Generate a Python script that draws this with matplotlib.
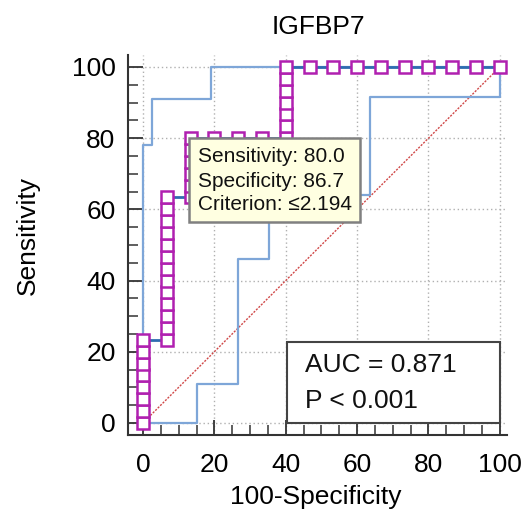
import matplotlib
matplotlib.use("Agg")
import matplotlib.pyplot as plt
from matplotlib.patches import Rectangle
from matplotlib.ticker import MultipleLocator

plt.rcParams['font.family'] = ['Liberation Sans', 'DejaVu Sans']

title = "IGFBP7"
xlabel = "100-Specificity"
ylabel = "Sensitivity"
ticks = [0, 20, 40, 60, 80, 100]

# ROC operating points (100-Specificity, Sensitivity)
roc_x = [0, 0, 0, 0, 0, 0, 0, 0,
         6.67, 6.67, 6.67, 6.67, 6.67, 6.67, 6.67, 6.67, 6.67, 6.67, 6.67, 6.67, 6.67,
         13.33, 13.33, 13.33, 13.33, 13.33, 13.33,
         20.0, 26.67, 33.33,
         40.0, 40.0, 40.0, 40.0, 40.0, 40.0, 40.0,
         46.67, 53.33, 60.0, 66.67, 73.33, 80.0, 86.67, 93.33, 100.0]
roc_y = [0, 3.33, 6.67, 10.0, 13.33, 16.67, 20.0, 23.33,
         23.33, 26.67, 30.0, 33.33, 36.67, 40.0, 43.33, 46.67, 50.0, 53.33, 56.67, 60.0, 63.33,
         63.33, 66.67, 70.0, 73.33, 76.67, 80.0,
         80.0, 80.0, 80.0,
         80.0, 83.33, 86.67, 90.0, 93.33, 96.67, 100.0,
         100.0, 100.0, 100.0, 100.0, 100.0, 100.0, 100.0, 100.0, 100.0]

# confidence bounds
upper_x = [0, 0, 2.5, 2.5, 19.0, 19.0, 100]
upper_y = [0, 78.0, 78.0, 91.0, 91.0, 100, 100]
lower_x = [0, 15.0, 15.0, 26.7, 26.7, 35.3, 35.3, 63.6, 63.6, 100, 100]
lower_y = [0, 0, 11.0, 11.0, 46.0, 46.0, 64.0, 64.0, 91.6, 91.6, 100]

diag_x = [0, 100]
diag_y = [0, 100]

tip_lines = ["Sensitivity: 80.0", "Specificity: 86.7", "Criterion: \u22642.194"]
auc_lines = ["AUC = 0.871", "P < 0.001"]

W, H = 522, 514
fig = plt.figure(figsize=(W / 100, H / 100), dpi=100)
ax = fig.add_axes([128 / W, 1 - 435 / H, 379 / W, 380.5 / H])
ax.set_xlim(-4.2, 102)
ax.set_ylim(-3.4, 103.5)

for t in ticks:
    ax.axvline(t, color='#b0b0b0', lw=1.0, ls=(0, (1, 2)), zorder=0)
    ax.axhline(t, color='#b0b0b0', lw=1.0, ls=(0, (1, 2)), zorder=0)

ax.plot(diag_x, diag_y, color='#d04848', lw=1.0, ls=(0, (1.5, 1.0)), zorder=1)
ax.plot(upper_x, upper_y, color='#7ea6d8', lw=1.6, zorder=2)
ax.plot(lower_x, lower_y, color='#7ea6d8', lw=1.6, zorder=2)
ax.plot(roc_x, roc_y, color='#2f6cb0', lw=2.0, zorder=3)
ax.plot(roc_x, roc_y, ls='none', marker='s', ms=8.5, mfc='white', mec='#b020b0',
        mew=1.8, zorder=4, clip_on=False)

ax.spines['top'].set_visible(False)
ax.spines['right'].set_visible(False)
for s in ('left', 'bottom'):
    ax.spines[s].set_linewidth(1.5)
    ax.spines[s].set_color('#333333')
ax.set_xticks(ticks)
ax.set_yticks(ticks)
ax.xaxis.set_minor_locator(MultipleLocator(5))
ax.yaxis.set_minor_locator(MultipleLocator(5))
ax.tick_params(which='major', direction='in', length=11, width=1.3, color='#333333',
               labelsize=19)
ax.tick_params(axis='y', which='major', pad=9)
ax.tick_params(axis='x', which='major', pad=13)
ax.tick_params(which='minor', direction='in', length=7, width=1.1, color='#333333')

fig.text(318 / W, 1 - 27 / H, title, ha='center', va='center', fontsize=19)
fig.text(316 / W, 1 - 497 / H, xlabel, ha='center', va='center', fontsize=19)
fig.text(28 / W, 1 - 236 / H, ylabel, ha='center', va='center', fontsize=19, rotation=90)

# tooltip
fig.patches.append(Rectangle((189 / W, 1 - 222 / H), 171 / W, 84 / H, transform=fig.transFigure,
                             facecolor='#ffffe1', edgecolor='#808080', lw=1.8, zorder=6))
for i, line in enumerate(tip_lines):
    fig.text(198 / W, 1 - (157 + 24 * i) / H, line, ha='left', va='center', fontsize=15,
             color='#111111', zorder=7)

# AUC box
fig.patches.append(Rectangle((287 / W, 1 - 423 / H), 213 / W, 81 / H, transform=fig.transFigure,
                             facecolor='white', edgecolor='#444444', lw=1.5, zorder=5))
for i, line in enumerate(auc_lines):
    fig.text(305 / W, 1 - (365 + 36 * i) / H, line, ha='left', va='center', fontsize=19,
             color='#111111', zorder=7)

fig.savefig('out.png', dpi=100)
